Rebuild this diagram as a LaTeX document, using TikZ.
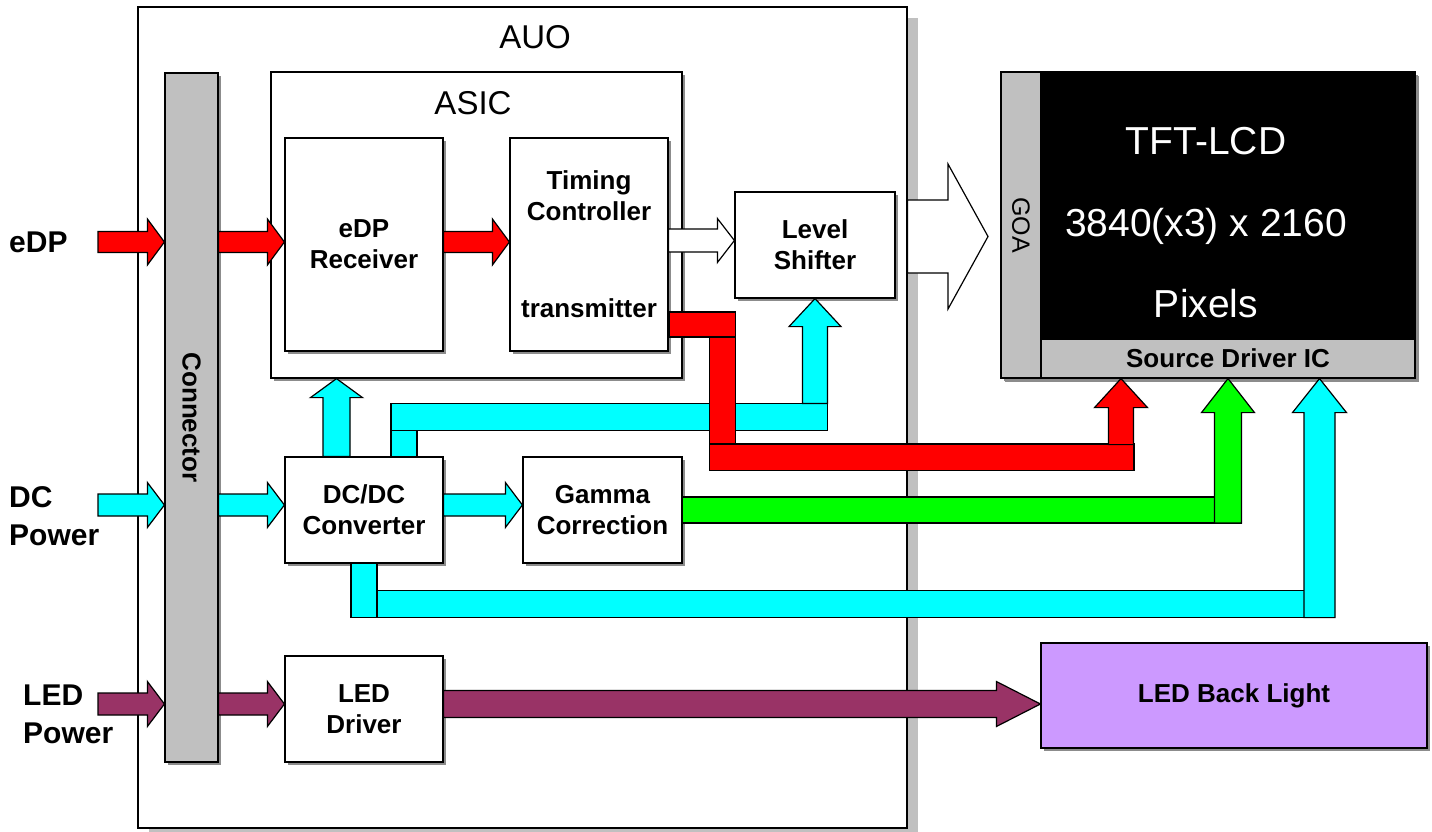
\documentclass[tikz,border=0pt]{standalone}
\usepackage{fontspec}
\setmainfont{Liberation Sans}
\usepackage{graphicx}
\usepackage{tikz}
\usetikzlibrary{calc, positioning, shadows}

\definecolor{sigred}{HTML}{FF0000}
\definecolor{sigcyan}{HTML}{00FFFF}
\definecolor{siggreen}{HTML}{00FF00}
\definecolor{ledwine}{HTML}{993366}
\definecolor{blulilac}{HTML}{CC99FF}
\definecolor{bargray}{HTML}{C0C0C0}

\tikzset{
  modbox/.style={
    rectangle, draw=black, line width=1.2pt, fill=white,
    drop shadow={shadow xshift=11pt, shadow yshift=-11pt, fill=bargray, opacity=1},
  },
  blockbox/.style={
    rectangle, draw=black, line width=1.2pt, fill=white,
    minimum width=158pt, minimum height=106pt, inner sep=0pt,
    align=center, font=\fontsize{26}{31}\selectfont\bfseries,
    drop shadow={shadow xshift=3pt, shadow yshift=-3pt, fill=black!45, opacity=1},
  },
  graybar/.style={blockbox, fill=bargray},
  heading/.style={font=\fontsize{33}{38}\selectfont},
  sidelabel/.style={anchor=west, align=left, inner sep=0pt, font=\fontsize{30}{38}\selectfont\bfseries},
  sigpath/.style={draw=black, line width=1.2pt, line join=miter},
}

% block arrows: style, tail, tip, shaft half width, head half width, head length
\newcommand{\harrow}[6]{%
  \path (#2) coordinate (tl);
  \path (#3) coordinate (hd);
  \filldraw[sigpath, #1] ($(tl)+(0,-#4)$) -- ($(hd)+(-#6,-#4)$) -- ($(hd)+(-#6,-#5)$) -- (hd)
    -- ($(hd)+(-#6,#5)$) -- ($(hd)+(-#6,#4)$) -- ($(tl)+(0,#4)$) -- cycle;
}
\newcommand{\uarrow}[6]{%
  \path (#2) coordinate (tl);
  \path (#3) coordinate (hd);
  \filldraw[sigpath, #1] ($(tl)+(-#4,0)$) -- ($(hd)+(-#4,#6)$) -- ($(hd)+(-#5,#6)$) -- (hd)
    -- ($(hd)+(#5,#6)$) -- ($(hd)+(#4,#6)$) -- ($(tl)+(#4,0)$) -- cycle;
}

\begin{document}
\begin{tikzpicture}[x=1pt, y=-1pt]
  \useasboundingbox (0,0) rectangle (1432,832);

  % AUO module
  \node[modbox, minimum width=769pt, minimum height=821pt] (auo) at (522.5,417.5) {};
  \node[heading] (auolbl) at (535,37) {AUO};

  % Connector
  \node[graybar, minimum width=53pt, minimum height=689pt] (conn) at (191.5,417.5) {\rotatebox{-90}{Connector}};

  % ASIC
  \node[blockbox, minimum width=411pt, minimum height=306pt] (asic) at (476.5,225) {};
  \node[heading] (asiclbl) at (473,103) {ASIC};
  \node[blockbox, minimum height=213pt] (rx) at (364,244.5) {eDP\\Receiver};
  \node[blockbox, minimum height=213pt] (tcon) at (589,244.5) {Timing\\Controller\\[66pt]transmitter};

  \node[blockbox, minimum width=160pt] (ls) at (815,245) {Level\\Shifter};
  \node[blockbox] (dcdc) at (364,510) {DC/DC\\Converter};
  \node[blockbox, minimum width=159pt] (gamma) at (602.5,510) {Gamma\\Correction};
  \node[blockbox] (led) at (364,709) {LED\\Driver};

  % Panel
  \node[graybar, minimum width=414pt, minimum height=306pt, drop shadow={shadow xshift=4pt, shadow yshift=-4pt, fill=black!45, opacity=1}] (tft) at (1208,225) {};
  \node[rectangle, draw=black, line width=1.2pt, fill=bargray, minimum width=40pt, minimum height=306pt, inner sep=0pt, font=\fontsize{25}{30}\selectfont] (goa) at (1021,225) {\rotatebox{-90}{GOA}};
  \node[rectangle, draw=black, line width=1.2pt, fill=black, minimum width=374pt, minimum height=267pt] (panel) at (1228,205.5) {};
  \node[rectangle, draw=black, line width=1.2pt, fill=bargray, minimum width=374pt, minimum height=39pt, inner sep=0pt, font=\fontsize{26}{30}\selectfont\bfseries] (sdic) at (1228,358.5) {Source Driver IC};
  \node[text=white, align=center, font=\fontsize{39}{81.5}\selectfont] (paneltxt) at (1206,223) {TFT-LCD\\3840(x3) x 2160\\Pixels};

  \node[blockbox, fill=blulilac, minimum width=386pt, minimum height=105pt] (blu) at (1234,695.5) {LED Back Light};

  % Inputs
  \node[sidelabel] (edplbl) at (9,242) {eDP};
  \node[sidelabel] (dclbl) at (9,516) {DC\\Power};
  \node[sidelabel] (ledlbl) at (23,714) {LED\\Power};
  \coordinate (edpin) at (98,242);
  \coordinate (dcin) at (98,505);
  \coordinate (ledin) at (98,704);
  \coordinate (txrow) at (0,240.5);
  \coordinate (panelin) at (988,236.5);

  % eDP path
  \harrow{fill=sigred}{edpin}{conn.west |- edpin}{10.5}{23}{17}
  \harrow{fill=sigred}{conn.east |- edpin}{rx.west |- edpin}{10.5}{23}{17}
  \harrow{fill=sigred}{rx.east |- edpin}{tcon.west |- edpin}{10.5}{23}{17}
  \harrow{fill=white}{tcon.east |- txrow}{ls.west |- txrow}{11.5}{22}{17}
  \harrow{fill=white}{auo.east |- panelin}{panelin}{36.5}{72.5}{40}

  % DC power path
  \harrow{fill=sigcyan}{dcin}{conn.west |- dcin}{11}{22.5}{17}
  \harrow{fill=sigcyan}{conn.east |- dcin}{dcdc.west |- dcin}{11}{22.5}{17}
  \harrow{fill=sigcyan}{dcdc.east |- dcin}{gamma.west |- dcin}{11}{22.5}{17}
  \uarrow{fill=sigcyan}{$(dcdc.north)+(-27.5,0)$}{asic.south -| tl}{13.5}{26}{19}

  % supply bus to level shifter
  \filldraw[sigpath, fill=sigcyan] ($(dcdc.north)+(27,0)$) rectangle ($(dcdc.north)+(53,-26)$);
  \filldraw[sigpath, fill=sigcyan] ($(dcdc.north)+(27,-26)$) rectangle ($(ls.south |- dcdc.north)+(12.5,-53)$);
  \uarrow{fill=sigcyan}{$(ls.south |- dcdc.north)+(0,-53)$}{ls.south}{12.5}{26}{28}

  % supply bus to source driver
  \filldraw[sigpath, fill=sigcyan] ($(dcdc.south)+(13,27)$) rectangle ($(sdic.south |- dcdc.south)+(92,54)$);
  \filldraw[sigpath, fill=sigcyan] ($(dcdc.south)+(-13,0)$) rectangle ($(dcdc.south)+(13,54)$);
  \uarrow{fill=sigcyan}{$(sdic.south |- dcdc.south)+(91.5,54)$}{$(sdic.south)+(91.5,0)$}{15.5}{27}{34}

  % transmitter to source driver
  \filldraw[sigpath, fill=sigred] ($(tcon.east)+(1,67.5)$) rectangle ($(tcon.east)+(67,92.5)$);
  \filldraw[sigpath, fill=sigred] ($(tcon.east)+(41,92.5)$) rectangle ($(tcon.east)+(67,199.5)$);
  \filldraw[sigpath, fill=sigred] ($(tcon.east)+(41,199.5)$) rectangle ($(sdic.south)+(-94,92)$);
  \uarrow{fill=sigred}{$(sdic.south)+(-107,66)$}{$(sdic.south)+(-107,0)$}{12.5}{26.5}{29}

  % gamma to source driver
  \filldraw[sigpath, fill=siggreen] ($(gamma.east)+(0,-13)$) rectangle ($(sdic.south |- gamma.east)+(13,13)$);
  \uarrow{fill=siggreen}{$(sdic.south |- gamma.east)+(0,13)$}{sdic.south}{13.5}{26.5}{34}

  % LED power path
  \harrow{fill=ledwine}{ledin}{conn.west |- ledin}{11}{22.5}{17}
  \harrow{fill=ledwine}{conn.east |- ledin}{led.west |- ledin}{11}{22.5}{17}
  \harrow{fill=ledwine}{led.east |- ledin}{blu.west |- ledin}{13.5}{22.5}{44}

\end{tikzpicture}
\end{document}
